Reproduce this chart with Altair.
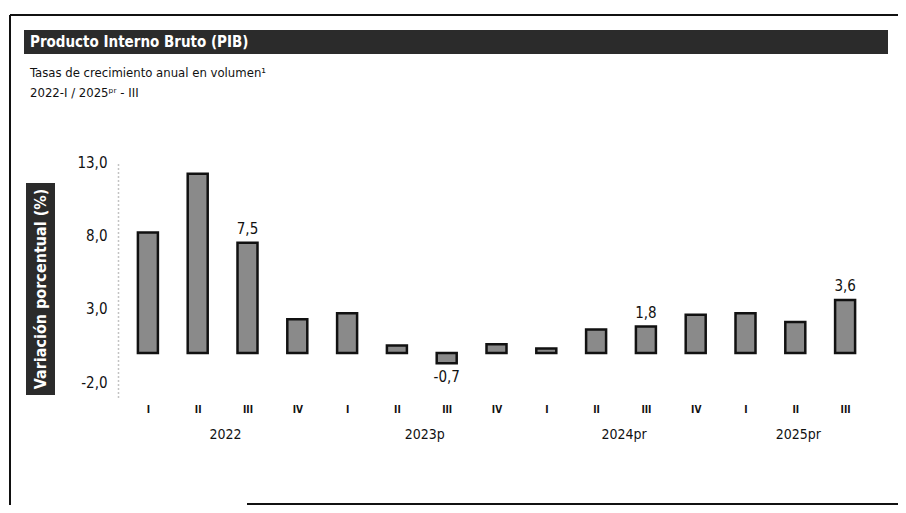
import altair as alt
import pandas as pd

# ---- data ----
years = ["2022"] * 4 + ["2023p"] * 4 + ["2024pr"] * 4 + ["2025pr"] * 3
quarters = ["I", "II", "III", "IV", "I", "II", "III", "IV", "I", "II", "III", "IV", "I", "II", "III"]
values = [8.2, 12.2, 7.5, 2.3, 2.7, 0.5, -0.7, 0.6, 0.3, 1.6, 1.8, 2.6, 2.7, 2.1, 3.6]
year_labels = ["2022", "2023p", "2024pr", "2025pr"]
y_ticks = [-2, 3, 8, 13]

title = "Producto Interno Bruto (PIB)"
subtitle1 = "Tasas de crecimiento anual en volumen¹"
subtitle2 = "2022-I / 2025ᵖʳ - III"
y_title = "Variación porcentual (%)"

FONT = "DejaVu Sans Condensed, Liberation Sans Narrow, Open Sans, sans-serif"

df = pd.DataFrame({"idx": list(range(len(values))), "year": years, "q": quarters, "value": values})
df["label"] = df["value"].map(lambda v: f"{v:.1f}".replace(".", ","))
lab = df[df["q"] == "III"]
pos_lab = lab[lab["value"] >= 0]
neg_lab = lab[lab["value"] < 0]

yc = df.groupby("year", sort=False)["idx"].mean().reset_index()
yc = yc.set_index("year").loc[year_labels].reset_index()

W, H = 757, 235
xscale = alt.Scale(domain=[-0.5, len(values) - 0.5], nice=False, zero=False)
yscale = alt.Scale(domain=[-3, 13], nice=False)

q_arr = "[" + ",".join(f"'{q}'" for q in quarters) + "]"

x_enc = alt.X(
    "idx:Q", scale=xscale,
    axis=alt.Axis(values=list(range(len(values))), labelExpr=f"{q_arr}[datum.value]",
                  grid=False, ticks=False, domain=False, labelFontSize=10, labelFontWeight="bold",
                  labelPadding=7, labelFont=FONT, labelColor="#111", title=None),
)
y_enc = alt.Y(
    "value:Q", scale=yscale,
    axis=alt.Axis(values=y_ticks,
                  labelExpr="replace(replace(format(datum.value, '.1f'), '.', ','), '\u2212', '-')",
                  grid=False, ticks=False, domainDash=[1, 3], domainColor="#888", domainWidth=1.5,
                  labelFontSize=15, labelPadding=11, labelFont=FONT, labelColor="#111", title=None),
)

bars = alt.Chart(df).mark_bar(size=20, fill="#8a8a8a", stroke="#111", strokeWidth=2.5).encode(
    x=x_enc, y=y_enc, y2=alt.datum(0)
)

pos_text = alt.Chart(pos_lab).mark_text(baseline="bottom", dy=-6, fontSize=15, font=FONT, color="#111").encode(
    x="idx:Q", y="value:Q", text="label:N"
)
neg_text = alt.Chart(neg_lab).mark_text(baseline="top", dy=7, fontSize=15, font=FONT, color="#111").encode(
    x="idx:Q", y="value:Q", text="label:N"
)

year_text = alt.Chart(yc).mark_text(baseline="middle", fontSize=14, font=FONT, color="#111", dx=3).encode(
    x="idx:Q", y=alt.value(273), text="year:N"
)

one = pd.DataFrame({"d": [0]})
base = alt.Chart(one)

title_band = base.mark_rect(fill="#2b2b2b").encode(
    x=alt.value(-94), x2=alt.value(770), y=alt.value(-132), y2=alt.value(-108)
)
title_text = base.mark_text(align="left", baseline="middle", fontSize=15, fontWeight="bold",
                            font=FONT, color="white").encode(
    x=alt.value(-88), y=alt.value(-120), text=alt.value(title)
)
sub1 = base.mark_text(align="left", baseline="middle", fontSize=13, font=FONT, color="#111").encode(
    x=alt.value(-88), y=alt.value(-89), text=alt.value(subtitle1)
)
sub2 = base.mark_text(align="left", baseline="middle", fontSize=13, font=FONT, color="#111").encode(
    x=alt.value(-88), y=alt.value(-69), text=alt.value(subtitle2)
)
ytitle_box = base.mark_rect(fill="#2b2b2b").encode(
    x=alt.value(-92), x2=alt.value(-63), y=alt.value(21), y2=alt.value(233)
)
ytitle_text = base.mark_text(align="center", baseline="middle", angle=270, fontSize=16, fontWeight="bold",
                             font=FONT, color="white").encode(
    x=alt.value(-77), y=alt.value(127), text=alt.value(y_title)
)

left_line = base.mark_rule(color="#111", strokeWidth=2).encode(
    x=alt.value(-108), y=alt.value(-147), y2=alt.value(345)
)
top_line = base.mark_rule(color="#111", strokeWidth=2).encode(
    x=alt.value(-108), x2=alt.value(780), y=alt.value(-147)
)
bottom_line = base.mark_rule(color="#111", strokeWidth=2).encode(
    x=alt.value(129), x2=alt.value(780), y=alt.value(342)
)

chart = alt.layer(
    left_line, top_line, bottom_line, title_band, title_text, sub1, sub2, ytitle_box, ytitle_text,
    bars, pos_text, neg_text, year_text,
).properties(
    width=W, height=H,
    autosize=alt.AutoSizeParams(type="none"),
    padding={"left": 110, "top": 154, "right": 23, "bottom": 108},
    background="white",
).configure_view(stroke=None)

chart.save("out.html", embed_options={"renderer": "svg", "actions": False})
